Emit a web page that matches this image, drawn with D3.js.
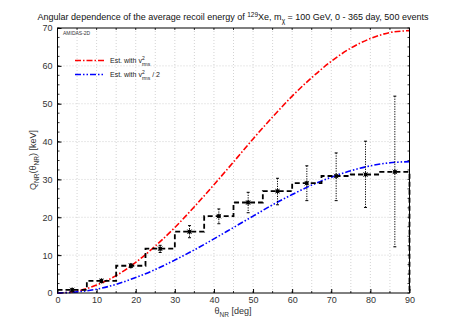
<!DOCTYPE html>
<html>
<head>
<meta charset="utf-8">
<script src="https://cdn.jsdelivr.net/npm/d3@7"></script>
<style>
  body { margin: 0; background: #fff; }
  svg { display: block; font-family: "Liberation Sans", Arial, sans-serif; }
</style>
</head>
<body>
<svg id="chart" width="458" height="321"></svg>
<script>
// bins of the reconstructed histogram
let binEdges = [0, 7.5, 15, 22.5, 30, 37.5, 45, 52.5, 60, 67.5, 75, 82.5, 90];
let binCenters = [3.75, 11.25, 18.75, 26.25, 33.75, 41.25, 48.75, 56.25, 63.75, 71.25, 78.75, 86.25];
let qMean = [0.8, 3.2, 7.2, 11.7, 16.2, 20.3, 23.9, 26.9, 29.0, 30.9, 31.3, 32.0];
let qHi = [1.1, 3.6, 7.7, 12.6, 17.8, 22.2, 26.6, 30.3, 33.6, 37.0, 40.1, 52.0];
let qLo = [0.5, 2.8, 6.7, 10.7, 14.6, 18.3, 21.2, 23.3, 24.4, 24.4, 22.6, 12.2];

// estimated curves
let thetaGrid = [0, 5, 10, 15, 20, 25, 30, 35, 40, 45, 50, 55, 60, 65, 70, 75, 80, 85, 90];
let qFull = [0, 0.5, 2.1, 4.6, 8.1, 12.4, 17.3, 22.8, 28.6, 34.6, 40.7, 46.5, 52.0, 56.9, 61.2, 64.7, 67.2, 68.8, 69.3];
let qHalf = [0, 0.3, 1.0, 2.3, 4.1, 6.2, 8.7, 11.4, 14.3, 17.3, 20.3, 23.3, 26.0, 28.5, 30.6, 32.3, 33.6, 34.4, 34.7];

let xTicks = [0, 10, 20, 30, 40, 50, 60, 70, 80, 90];
let xGrid = [5, 10, 15, 20, 25, 30, 35, 40, 45, 50, 55, 60, 65, 70, 75, 80, 85];
let yTicks = [0, 10, 20, 30, 40, 50, 60, 70];

let svgObj = d3.select('#chart');
let x0 = 57.5, x1 = 409.5, yTop = 28, yBot = 293;
let xScale = d3.scaleLinear().domain([0, 90]).range([x0, x1]);
let yScale = d3.scaleLinear().domain([0, 70]).range([yBot, yTop]);

// grid
let grid = svgObj.append('g').attr('stroke', '#c8c8c8').attr('stroke-width', 0.8).attr('stroke-dasharray', '1,2');
xGrid.forEach(v => grid.append('line')
	.attr('x1', xScale(v)).attr('x2', xScale(v)).attr('y1', yTop).attr('y2', yBot));
yTicks.slice(1, -1).forEach(v => grid.append('line')
	.attr('x1', x0).attr('x2', x1).attr('y1', yScale(v)).attr('y2', yScale(v)));

// axes (ticks point inward)
let tickFmt = d3.format('d');
let xAxis = d3.axisBottom(xScale).tickValues(xTicks).tickSize(-4).tickPadding(4).tickFormat(tickFmt);
let yAxis = d3.axisLeft(yScale).tickValues(yTicks).tickSize(-4).tickPadding(5).tickFormat(tickFmt);
let gx = svgObj.append('g').attr('transform', `translate(0,${yBot})`).call(xAxis);
let gy = svgObj.append('g').attr('transform', `translate(${x0},0)`).call(yAxis);
[gx, gy].forEach(g => {
	g.select('.domain').remove();
	g.selectAll('.tick line').attr('stroke', '#000');
	g.selectAll('.tick text').attr('fill', '#333').style('font-size', '9px');
});
let minorY = d3.range(0, 70.1, 2.5);
let minorX = d3.range(0, 90.1, 5);
let minor = svgObj.append('g').attr('stroke', '#000').attr('stroke-width', 0.8);
minorY.forEach(v => {
	minor.append('line').attr('x1', x0).attr('x2', x0 + 2).attr('y1', yScale(v)).attr('y2', yScale(v));
	minor.append('line').attr('x1', x1).attr('x2', x1 - 2).attr('y1', yScale(v)).attr('y2', yScale(v));
});
minorX.forEach(v => {
	minor.append('line').attr('x1', xScale(v)).attr('x2', xScale(v)).attr('y1', yBot).attr('y2', yBot - 2);
	minor.append('line').attr('x1', xScale(v)).attr('x2', xScale(v)).attr('y1', yTop).attr('y2', yTop + 2);
});

// curves
let curveLine = d3.line()
	.x((d, i) => xScale(thetaGrid[i]))
	.y(d => yScale(d))
	.curve(d3.curveMonotoneX);
svgObj.append('path')
	.attr('fill', 'none')
	.attr('stroke', '#ff0000')
	.attr('stroke-width', 1.6)
	.attr('stroke-dasharray', '6,2,1.5,2')
	.attr('d', curveLine(qFull));
svgObj.append('path')
	.attr('fill', 'none')
	.attr('stroke', '#0000ff')
	.attr('stroke-width', 1.6)
	.attr('stroke-dasharray', '6,2,1.5,2,1.5,2')
	.attr('d', curveLine(qHalf));

// error bars
let errs = svgObj.append('g').attr('stroke', '#000').attr('stroke-width', 1);
binCenters.forEach((c, i) => {
	let cx = xScale(c);
	errs.append('line').attr('x1', cx).attr('x2', cx)
		.attr('y1', yScale(qHi[i])).attr('y2', yScale(qLo[i]))
		.attr('stroke-dasharray', '1.2,1.3');
	[qHi[i], qLo[i]].forEach(v => errs.append('line')
		.attr('x1', cx - 1.5).attr('x2', cx + 1.5)
		.attr('y1', yScale(v)).attr('y2', yScale(v)));
});

// histogram steps
let stepPts = binEdges.slice(0, -1).map((e, i) => [e, qMean[i]]);
stepPts.push([90, qMean[qMean.length - 1]]);
stepPts.push([90, 0]);
let stepLine = d3.line()
	.x(d => xScale(d[0]))
	.y(d => yScale(d[1]))
	.curve(d3.curveStepAfter);
svgObj.append('path')
	.attr('fill', 'none')
	.attr('stroke', '#000')
	.attr('stroke-width', 1.8)
	.attr('stroke-dasharray', '5,3')
	.attr('d', stepLine(stepPts));

// points
let pts = svgObj.append('g');
binCenters.forEach((c, i) => {
	let cx = xScale(c), cy = yScale(qMean[i]);
	pts.append('rect').attr('x', cx - 1.7).attr('y', cy - 1.7).attr('width', 3.4).attr('height', 3.4).attr('fill', '#000');
	pts.append('path').attr('d', `M${cx - 2.3},${cy - 2.3}L${cx + 2.3},${cy + 2.3}M${cx - 2.3},${cy + 2.3}L${cx + 2.3},${cy - 2.3}M${cx},${cy - 2.8}V${cy + 2.8}`)
		.attr('stroke', '#000').attr('stroke-width', 0.7);
});

// frame
svgObj.append('rect')
	.attr('x', x0).attr('y', yTop).attr('width', x1 - x0).attr('height', yBot - yTop)
	.attr('fill', 'none').attr('stroke', '#000').attr('stroke-width', 1);

// title
let title = svgObj.append('text')
	.attr('x', 233).attr('y', 20)
	.attr('text-anchor', 'middle')
	.style('font-size', '9px')
	.attr('fill', '#111');
title.append('tspan').text('Angular dependence of the average recoil energy of ');
title.append('tspan').attr('dy', -3.5).style('font-size', '6.5px').text('129');
title.append('tspan').attr('dy', 3.5).text('Xe, m');
title.append('tspan').attr('dy', 2.5).style('font-size', '6.5px').text('χ');
title.append('tspan').attr('dy', -2.5).text(' = 100 GeV, 0 - 365 day, 500 events');

// axis labels
let xl = svgObj.append('text')
	.attr('x', 233).attr('y', 314)
	.attr('text-anchor', 'middle')
	.style('font-size', '9px').attr('fill', '#333');
xl.append('tspan').text('θ');
xl.append('tspan').attr('dy', 2.5).style('font-size', '6.5px').text('NR');
xl.append('tspan').attr('dy', -2.5).text(' [deg]');

let yl = svgObj.append('text')
	.attr('transform', 'translate(36,160) rotate(-90)')
	.attr('text-anchor', 'middle')
	.style('font-size', '9px').attr('fill', '#333');
yl.append('tspan').text('Q');
yl.append('tspan').attr('dy', 2.5).style('font-size', '6.5px').text('NR');
yl.append('tspan').attr('dy', -2.5).text('(θ');
yl.append('tspan').attr('dy', 2.5).style('font-size', '6.5px').text('NR');
yl.append('tspan').attr('dy', -2.5).text(') [keV]');

// corner tag
svgObj.append('text')
	.attr('x', 63).attr('y', 35)
	.style('font-size', '5px').attr('fill', '#333')
	.text('AMIDAS-2D');

// legend
let legend = [
	{ color: '#ff0000', dash: '6,2,1.5,2', tail: '' },
	{ color: '#0000ff', dash: '6,2,1.5,2,1.5,2', tail: ' / 2' }
];
legend.forEach((l, i) => {
	let ly = 60.5 + i * 14;
	svgObj.append('line')
		.attr('x1', 75).attr('x2', 105).attr('y1', ly).attr('y2', ly)
		.attr('stroke', l.color).attr('stroke-width', 1.6).attr('stroke-dasharray', l.dash);
	let t = svgObj.append('text')
		.attr('x', 110).attr('y', ly + 2.5)
		.style('font-size', '7px').attr('fill', '#222');
	t.append('tspan').text('Est. with v');
	t.append('tspan').attr('dy', -3.5).style('font-size', '5px').text('2');
	t.append('tspan').attr('dx', -2.8).attr('dy', 6).style('font-size', '5px').text('rms');
	t.append('tspan').attr('dy', -2.5).text(l.tail);
});
</script>
</body>
</html>
